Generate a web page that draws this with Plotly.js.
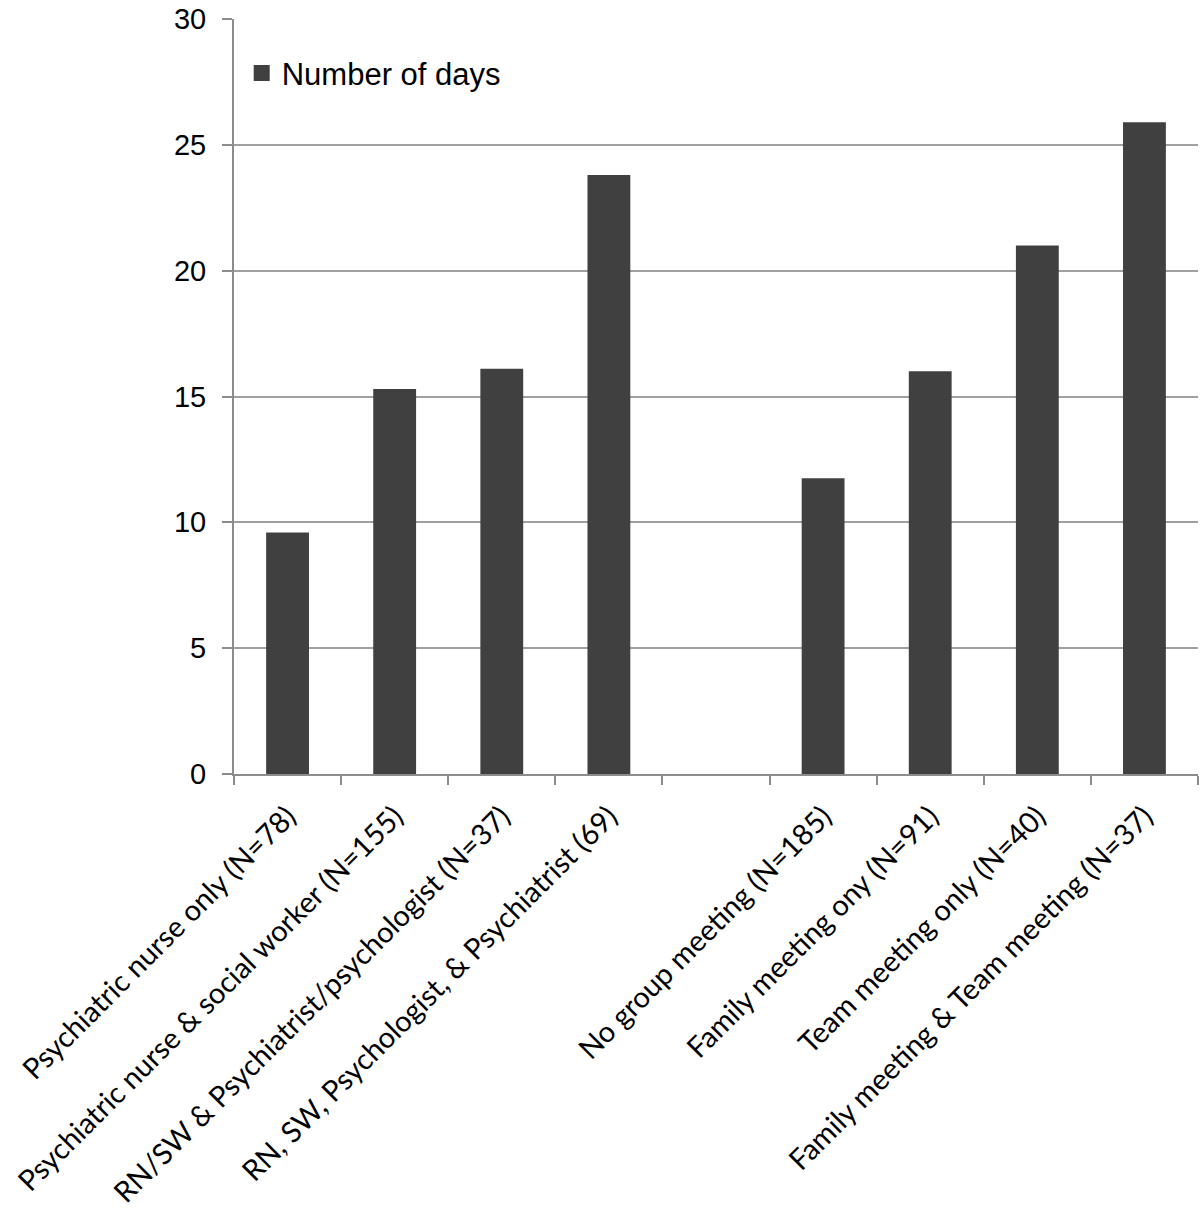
<!DOCTYPE html>
<html>
<head>
<meta charset="utf-8">
<script src="https://cdn.plot.ly/plotly-3.0.1.min.js"></script>
<style>html,body{margin:0;padding:0;background:#fff;}#chart{width:1200px;height:1211px;}</style>
</head>
<body>
<div id="chart"></div>
<script>
const categories = [
  "Psychiatric nurse only (N=78)",
  "Psychiatric nurse & social worker (N=155)",
  "RN/SW & Psychiatrist/psychologist (N=37)",
  "RN, SW, Psychologist, & Psychiatrist (69)",
  " ",
  "No group meeting (N=185)",
  "Family meeting ony (N=91)",
  "Team meeting only (N=40)",
  "Family meeting & Team meeting (N=37)"
];
const numberOfDays = [9.6, 15.3, 16.1, 23.8, null, 11.75, 16.0, 21.0, 25.9];
const seriesName = "Number of days";
const yTicks = [0, 5, 10, 15, 20, 25, 30];
const barColor = "#404040";

const barTrace = {
  type: "bar",
  x: categories,
  y: numberOfDays,
  name: seriesName,
  marker: {color: barColor},
  showlegend: false,
  hoverinfo: "x+y"
};

// legend key only (square swatch like the reference)
const legendKey = {
  type: "scatter",
  mode: "markers",
  x: [null],
  y: [null],
  name: seriesName,
  marker: {symbol: "square", size: 19, color: barColor},
  showlegend: true,
  hoverinfo: "skip"
};

const layout = {
  width: 1200,
  height: 1211,
  margin: {l: 234, r: 2, t: 19, b: 437, pad: 0},
  paper_bgcolor: "#fff",
  plot_bgcolor: "#fff",
  bargap: 0.6,
  showlegend: true,
  legend: {
    x: 0.008, y: 0.928, xanchor: "left", yanchor: "middle",
    font: {family: "Liberation Sans, Arial, sans-serif", size: 31, color: "#000"},
    bgcolor: "rgba(0,0,0,0)",
    itemsizing: "trace"
  },
  xaxis: {
    type: "category",
    tickangle: -45,
    tickson: "boundaries",
    ticks: "outside",
    ticklen: 9,
    tickwidth: 2,
    tickcolor: "#8c8c8c",
    showline: true,
    linecolor: "#8c8c8c",
    linewidth: 2,
    showgrid: false,
    ticklabelstandoff: 12,
    tickfont: {family: "Lato, Carlito, sans-serif", size: 29, color: "#000"},
    automargin: false
  },
  yaxis: {
    range: [0, 30],
    tickvals: yTicks,
    ticks: "outside",
    ticklen: 10,
    tickwidth: 2,
    tickcolor: "#8c8c8c",
    showline: true,
    linecolor: "#8c8c8c",
    linewidth: 2,
    showgrid: true,
    gridcolor: "#a0a0a0",
    gridwidth: 2,
    zeroline: false,
    ticklabelstandoff: 10,
    tickfont: {family: "Liberation Sans, Arial, sans-serif", size: 29, color: "#000"},
    automargin: false
  }
};

Plotly.newPlot("chart", [barTrace, legendKey], layout, {displayModeBar: false, staticPlot: true});
</script>
</body>
</html>
